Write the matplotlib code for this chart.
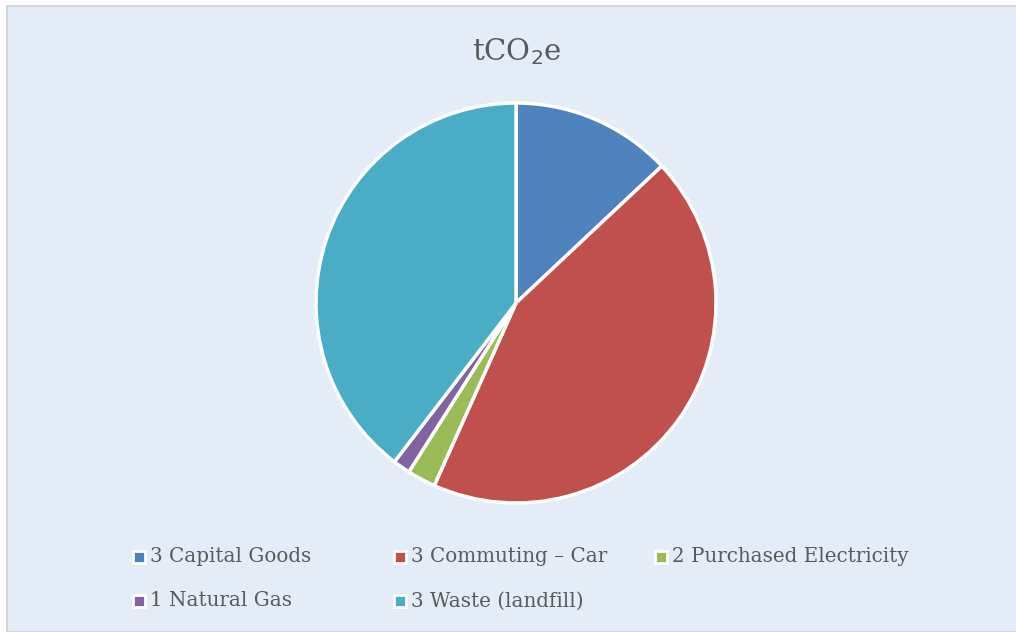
import matplotlib.pyplot as plt
from matplotlib.patches import Rectangle

# data
labels = ['3 Capital Goods', '3 Commuting \u2013 Car', '2 Purchased Electricity',
          '1 Natural Gas', '3 Waste (landfill)']
values = [13.0, 43.7, 2.3, 1.4, 39.6]
colors = ['#4F81BD', '#C0504D', '#9BBB59', '#8064A2', '#4BACC6']

bg = '#E4ECF7'
plt.rcParams['font.family'] = ['DejaVu Serif']

fig = plt.figure(figsize=(10.16, 6.32), dpi=100)
fig.patch.set_facecolor('white')
# chart area with thin grey border on top/left
fig.patches.append(Rectangle((7 / 1016, 0), 1.0, (632 - 6) / 632, transform=fig.transFigure,
                             facecolor=bg, edgecolor='#D0D0D0', linewidth=1.2, zorder=-5))

ax = fig.add_axes([311 / 1016, (632 - 508) / 632, 410 / 1016, 410 / 632])
ax.set_zorder(5)
ax.pie(values, colors=colors, startangle=90, counterclock=False, radius=1.0,
       wedgeprops=dict(edgecolor='white', linewidth=2.5))
ax.set_xlim(-1.025, 1.025)
ax.set_ylim(-1.025, 1.025)
ax.set_aspect('equal')
ax.axis('off')

fig.text(517 / 1016, 1 - 52 / 632, 'tCO$_2$e', ha='center', va='center',
         fontsize=21, color='#595959')

# legend, laid out like the original (3 columns, 2 rows)
pos = [(139, 557), (400, 557), (661, 557), (139, 601), (400, 601)]
for (px, py), lab, c in zip(pos, labels, colors):
    fig.patches.append(Rectangle(((px - 6) / 1016, 1 - (py + 6) / 632), 12 / 1016, 12 / 632,
                                 transform=fig.transFigure, facecolor=c,
                                 edgecolor='white', linewidth=2))
    fig.text((px + 11) / 1016, 1 - py / 632, lab, ha='left', va='center',
             fontsize=14.3, color='#595959')

plt.savefig('out.png', dpi=100, facecolor=fig.get_facecolor())
